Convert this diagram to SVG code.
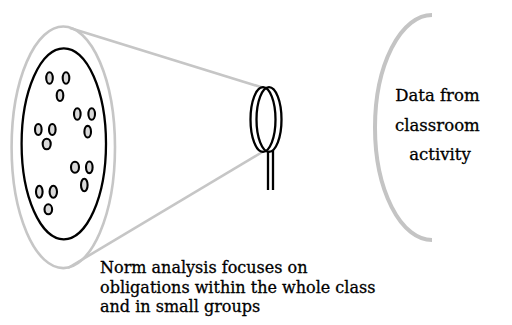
<svg xmlns="http://www.w3.org/2000/svg" width="512" height="325" viewBox="0 0 512 325">
  <style>
    .grey { fill: none; stroke: #c6c6c6; stroke-width: 2.6; }
    .ink { fill: none; stroke: #000; stroke-width: 2.3; }
    .dot { fill: #d9d9d9; stroke: #000; stroke-width: 2.1; }
    .label { font-family: "DejaVu Serif", "Liberation Serif", serif; font-size: 16px; fill: #000; stroke: #000; stroke-width: 0.3; }
    .source { font-size: 16.5px; }
  </style>
  <rect width="512" height="325" fill="#fff"/>

  <!-- cone of view from the class to the lens -->
  <g id="connectors">
    <line class="grey" x1="70" y1="28" x2="264" y2="88"/>
    <line class="grey" x1="68" y1="268" x2="264" y2="151"/>
  </g>

  <!-- whole class with small groups -->
  <g id="class">
    <ellipse class="grey" cx="63.3" cy="147.3" rx="51.7" ry="120.8"/>
    <ellipse class="ink" cx="63.8" cy="143.8" rx="42.2" ry="95.5"/>
    <g id="groups">
      <ellipse class="dot" cx="49.5" cy="78" rx="3.3" ry="5.8"/>
      <ellipse class="dot" cx="66" cy="78" rx="3.3" ry="5.8"/>
      <ellipse class="dot" cx="60" cy="95.5" rx="3.3" ry="5.5"/>
      <ellipse class="dot" cx="77.3" cy="114" rx="3.3" ry="5.8"/>
      <ellipse class="dot" cx="91.7" cy="114" rx="3.3" ry="5.8"/>
      <ellipse class="dot" cx="87.7" cy="131.7" rx="3.3" ry="5.8"/>
      <ellipse class="dot" cx="38.3" cy="129.5" rx="3.3" ry="5.5"/>
      <ellipse class="dot" cx="52.3" cy="129.5" rx="3.3" ry="5.5"/>
      <ellipse class="dot" cx="46.7" cy="144" rx="4" ry="5.3"/>
      <ellipse class="dot" cx="75" cy="167.3" rx="4" ry="5.5"/>
      <ellipse class="dot" cx="89.3" cy="167.3" rx="3.3" ry="5.8"/>
      <ellipse class="dot" cx="84.3" cy="185" rx="3.3" ry="6.3"/>
      <ellipse class="dot" cx="39.3" cy="191.7" rx="3.3" ry="6"/>
      <ellipse class="dot" cx="53.3" cy="191.7" rx="3.7" ry="6"/>
      <ellipse class="dot" cx="48.3" cy="209.3" rx="3.8" ry="5"/>
    </g>
  </g>

  <!-- magnifying lens -->
  <g id="lens">
    <line class="ink" x1="268" y1="150" x2="268" y2="190"/>
    <line class="ink" x1="273" y1="150" x2="273" y2="190"/>
    <ellipse cx="266" cy="119.5" rx="15" ry="32" fill="#fff" stroke="none"/>
    <ellipse class="ink" cx="263" cy="119.5" rx="12.5" ry="32.3"/>
    <ellipse class="ink" cx="269" cy="119.5" rx="12.5" ry="32.3"/>
  </g>

  <!-- data source -->
  <g id="data">
    <path d="M432,15 A57,112.5 0 0 0 432,240" fill="none" stroke="#c4c4c4" stroke-width="4"/>
    <text class="label source" text-anchor="middle">
      <tspan x="440" y="101">Data from</tspan>
      <tspan x="440" y="131">classroom</tspan>
      <tspan x="440" y="160"> activity</tspan>
    </text>
  </g>

  <g id="caption">
    <text class="label">
      <tspan x="100" y="273">Norm analysis focuses on</tspan>
      <tspan x="100" y="293">obligations within the whole class</tspan>
      <tspan x="100" y="312">and in small groups</tspan>
    </text>
  </g>
</svg>
